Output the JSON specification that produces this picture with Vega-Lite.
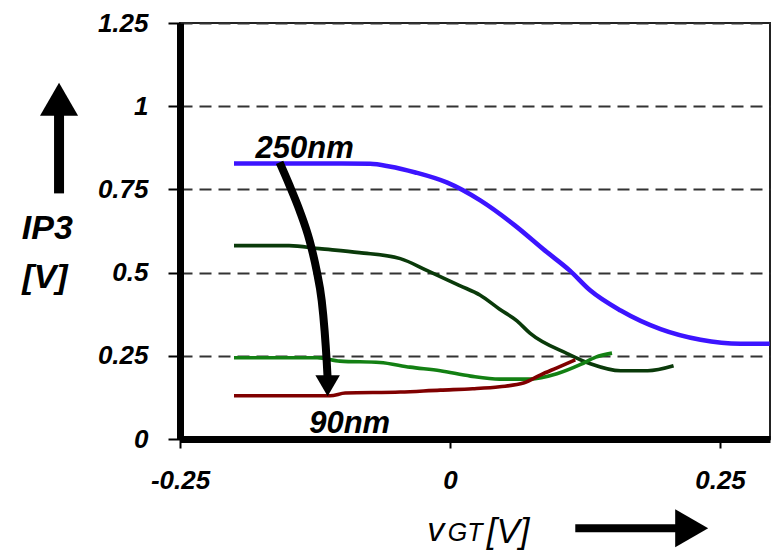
{
  "$schema": "https://vega.github.io/schema/vega-lite/v6.json",
  "width": 590,
  "height": 416,
  "autosize": "none",
  "padding": {"left": 180, "top": 23, "right": 2, "bottom": 112},
  "background": "white",
  "config": {
    "view": {"stroke": "#222", "strokeWidth": 2},
    "font": "Liberation Sans"
  },
  "datasets": {
    "curves": [
      {"series": "250nm", "x": -0.2, "y": 0.828},
      {"series": "250nm", "x": -0.15, "y": 0.828},
      {"series": "250nm", "x": -0.1, "y": 0.828},
      {"series": "250nm", "x": -0.074, "y": 0.827},
      {"series": "250nm", "x": -0.056, "y": 0.819},
      {"series": "250nm", "x": -0.032, "y": 0.801},
      {"series": "250nm", "x": -0.003, "y": 0.771},
      {"series": "250nm", "x": 0.028, "y": 0.717},
      {"series": "250nm", "x": 0.06, "y": 0.642},
      {"series": "250nm", "x": 0.088, "y": 0.566},
      {"series": "250nm", "x": 0.111, "y": 0.506},
      {"series": "250nm", "x": 0.13, "y": 0.446},
      {"series": "250nm", "x": 0.158, "y": 0.386},
      {"series": "250nm", "x": 0.195, "y": 0.33},
      {"series": "250nm", "x": 0.232, "y": 0.298},
      {"series": "250nm", "x": 0.269, "y": 0.286},
      {"series": "250nm", "x": 0.296, "y": 0.286},
      {"series": "180nm", "x": -0.2, "y": 0.581},
      {"series": "180nm", "x": -0.149, "y": 0.581},
      {"series": "180nm", "x": -0.121, "y": 0.572},
      {"series": "180nm", "x": -0.084, "y": 0.56},
      {"series": "180nm", "x": -0.046, "y": 0.542},
      {"series": "180nm", "x": -0.021, "y": 0.506},
      {"series": "180nm", "x": 0.009, "y": 0.461},
      {"series": "180nm", "x": 0.028, "y": 0.432},
      {"series": "180nm", "x": 0.046, "y": 0.39},
      {"series": "180nm", "x": 0.062, "y": 0.355},
      {"series": "180nm", "x": 0.074, "y": 0.318},
      {"series": "180nm", "x": 0.109, "y": 0.256},
      {"series": "180nm", "x": 0.13, "y": 0.226},
      {"series": "180nm", "x": 0.158, "y": 0.205},
      {"series": "180nm", "x": 0.183, "y": 0.205},
      {"series": "180nm", "x": 0.207, "y": 0.22},
      {"series": "130nm", "x": -0.2, "y": 0.244},
      {"series": "130nm", "x": -0.123, "y": 0.244},
      {"series": "130nm", "x": -0.102, "y": 0.234},
      {"series": "130nm", "x": -0.065, "y": 0.23},
      {"series": "130nm", "x": -0.037, "y": 0.216},
      {"series": "130nm", "x": -0.009, "y": 0.205},
      {"series": "130nm", "x": 0.019, "y": 0.189},
      {"series": "130nm", "x": 0.046, "y": 0.18},
      {"series": "130nm", "x": 0.074, "y": 0.18},
      {"series": "130nm", "x": 0.099, "y": 0.196},
      {"series": "130nm", "x": 0.121, "y": 0.224},
      {"series": "130nm", "x": 0.135, "y": 0.246},
      {"series": "130nm", "x": 0.15, "y": 0.258},
      {"series": "90nm", "x": -0.2, "y": 0.13},
      {"series": "90nm", "x": -0.111, "y": 0.13},
      {"series": "90nm", "x": -0.097, "y": 0.138},
      {"series": "90nm", "x": -0.046, "y": 0.141},
      {"series": "90nm", "x": -0.009, "y": 0.147},
      {"series": "90nm", "x": 0.021, "y": 0.151},
      {"series": "90nm", "x": 0.046, "y": 0.157},
      {"series": "90nm", "x": 0.068, "y": 0.168},
      {"series": "90nm", "x": 0.084, "y": 0.193},
      {"series": "90nm", "x": 0.099, "y": 0.214},
      {"series": "90nm", "x": 0.116, "y": 0.238}
    ],
    "bigArrow": [
      {"i": 0, "x": -0.1578, "y": 0.831},
      {"i": 1, "x": -0.1486, "y": 0.762},
      {"i": 2, "x": -0.1393, "y": 0.687},
      {"i": 3, "x": -0.13, "y": 0.596},
      {"i": 4, "x": -0.1235, "y": 0.506},
      {"i": 5, "x": -0.1188, "y": 0.416},
      {"i": 6, "x": -0.1161, "y": 0.325},
      {"i": 7, "x": -0.1142, "y": 0.235},
      {"i": 8, "x": -0.1133, "y": 0.181}
    ]
  },
  "layer": [
    {
      "data": {"name": "curves"},
      "transform": [{"filter": "datum.series != '250nm'"}],
      "mark": {"type": "line", "strokeWidth": 3.6, "interpolate": "monotone"},
      "encoding": {
        "x": {
          "field": "x", "type": "quantitative",
          "scale": {"domain": [-0.25, 0.2963], "nice": false, "zero": false},
          "axis": {
            "values": [-0.25, 0, 0.25], "title": null, "grid": false, "format": ".2~f",
            "domainColor": "black", "domainWidth": 7,
            "tickColor": "black", "tickWidth": 2, "tickSize": 9,
            "labelFont": "Liberation Sans", "labelFontSize": 26, "labelFontWeight": "bold", "labelFontStyle": "italic",
            "labelColor": "black", "labelPadding": 19, "labelFlush": false,
            "labelExpr": "datum.value < 0 ? '-0.25' : datum.label"
          }
        },
        "y": {
          "field": "y", "type": "quantitative",
          "scale": {"domain": [0, 1.25], "nice": false},
          "axis": {
            "values": [0, 0.25, 0.5, 0.75, 1, 1.25], "title": null, "format": ".2~f",
            "grid": true, "gridDash": [12, 7], "gridColor": "#333", "gridWidth": 2,
            "domainColor": "black", "domainWidth": 7,
            "tickColor": "black", "tickWidth": 2, "tickSize": 12,
            "labelFont": "Liberation Sans", "labelFontSize": 26, "labelFontWeight": "bold", "labelFontStyle": "italic",
            "labelColor": "black", "labelPadding": 20, "labelFlush": false
          }
        },
        "color": {
          "field": "series", "type": "nominal", "legend": null,
          "scale": {"domain": ["250nm", "180nm", "130nm", "90nm"], "range": ["#3c14ff", "#0a3a0a", "#138013", "#800000"]}
        }
      }
    },
    {
      "data": {"name": "curves"},
      "transform": [{"filter": "datum.series == '250nm'"}],
      "mark": {"type": "line", "strokeWidth": 4.6, "interpolate": "monotone"},
      "encoding": {
        "x": {"field": "x", "type": "quantitative"},
        "y": {"field": "y", "type": "quantitative"},
        "color": {"field": "series", "type": "nominal", "legend": null}
      }
    },
    {
      "data": {"name": "bigArrow"},
      "mark": {"type": "line", "color": "black", "strokeWidth": 8, "interpolate": "monotone", "strokeCap": "butt"},
      "encoding": {
        "x": {"field": "x", "type": "quantitative"},
        "y": {"field": "y", "type": "quantitative"},
        "order": {"field": "i"}
      }
    },
    {
      "data": {"values": [{"x": -0.1133, "y": 0.16}]},
      "mark": {"type": "point", "shape": "triangle-down", "size": 600, "filled": true, "color": "black", "opacity": 1},
      "encoding": {
        "x": {"field": "x", "type": "quantitative"},
        "y": {"field": "y", "type": "quantitative"}
      }
    },
    {
      "data": {"values": [{"x": -0.362, "y": 0.738, "y2": 0.99}]},
      "mark": {"type": "rule", "color": "black", "strokeWidth": 10},
      "encoding": {
        "x": {"field": "x", "type": "quantitative"},
        "y": {"field": "y", "type": "quantitative"},
        "y2": {"field": "y2"}
      }
    },
    {
      "data": {"values": [{"x": -0.362, "y": 1.021}]},
      "mark": {"type": "point", "shape": "triangle-up", "size": 1450, "filled": true, "color": "black", "opacity": 1},
      "encoding": {
        "x": {"field": "x", "type": "quantitative"},
        "y": {"field": "y", "type": "quantitative"}
      }
    },
    {
      "data": {"values": [{"x": 0.116, "x2": 0.212, "y": -0.268}]},
      "mark": {"type": "rule", "color": "black", "strokeWidth": 8},
      "encoding": {
        "x": {"field": "x", "type": "quantitative"},
        "x2": {"field": "x2"},
        "y": {"field": "y", "type": "quantitative"}
      }
    },
    {
      "data": {"values": [{"x": 0.2238, "y": -0.268}]},
      "mark": {"type": "point", "shape": "triangle-right", "size": 1450, "filled": true, "color": "black", "opacity": 1},
      "encoding": {
        "x": {"field": "x", "type": "quantitative"},
        "y": {"field": "y", "type": "quantitative"}
      }
    },
    {
      "data": {"values": [
        {"label": "250nm", "x": -0.1346, "y": 0.843},
        {"label": "90nm", "x": -0.0929, "y": 0.018}
      ]},
      "mark": {"type": "text", "font": "Liberation Sans", "fontSize": 31, "fontWeight": "bold", "fontStyle": "italic", "align": "center", "baseline": "alphabetic", "color": "black"},
      "encoding": {
        "x": {"field": "x", "type": "quantitative"},
        "y": {"field": "y", "type": "quantitative"},
        "text": {"field": "label"}
      }
    },
    {
      "data": {"values": [
        {"label": "IP3", "x": -0.3728, "y": 0.602},
        {"label": "[V]", "x": -0.375, "y": 0.455}
      ]},
      "mark": {"type": "text", "font": "Liberation Sans", "fontSize": 34, "fontWeight": "bold", "fontStyle": "italic", "align": "center", "baseline": "alphabetic", "color": "black"},
      "encoding": {
        "x": {"field": "x", "type": "quantitative"},
        "y": {"field": "y", "type": "quantitative"},
        "text": {"field": "label"}
      }
    },
    {
      "data": {"values": [{"label": "v", "x": -0.021, "y": -0.307}]},
      "mark": {"type": "text", "font": "Liberation Sans", "fontSize": 34, "fontStyle": "italic", "align": "left", "baseline": "alphabetic", "color": "black"},
      "encoding": {
        "x": {"field": "x", "type": "quantitative"},
        "y": {"field": "y", "type": "quantitative"},
        "text": {"field": "label"}
      }
    },
    {
      "data": {"values": [{"label": "GT", "x": -0.002, "y": -0.307}]},
      "mark": {"type": "text", "font": "Liberation Sans", "fontSize": 25, "fontStyle": "italic", "align": "left", "baseline": "alphabetic", "color": "black"},
      "encoding": {
        "x": {"field": "x", "type": "quantitative"},
        "y": {"field": "y", "type": "quantitative"},
        "text": {"field": "label"}
      }
    },
    {
      "data": {"values": [{"label": "[V]", "x": 0.034, "y": -0.313}]},
      "mark": {"type": "text", "font": "Liberation Sans", "fontSize": 35, "fontStyle": "italic", "align": "left", "baseline": "alphabetic", "color": "black"},
      "encoding": {
        "x": {"field": "x", "type": "quantitative"},
        "y": {"field": "y", "type": "quantitative"},
        "text": {"field": "label"}
      }
    },
    {
      "mark": {"type": "rule", "color": "black", "strokeWidth": 7},
      "encoding": {
        "y": {"datum": 1.25, "type": "quantitative"}
      }
    }
  ]
}
